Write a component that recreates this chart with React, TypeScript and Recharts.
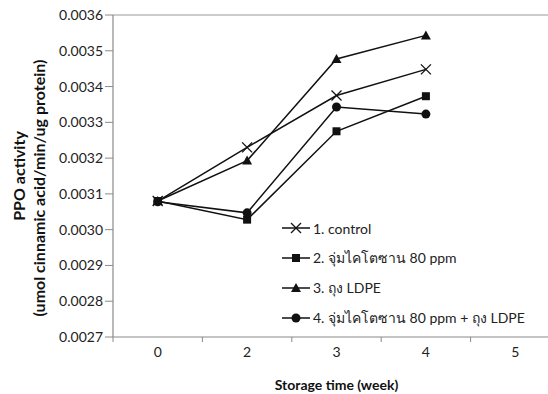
import React from 'react';
import {
  LineChart,
  Line,
  XAxis,
  YAxis,
  ReferenceLine,
  Label
} from 'recharts';

// storage weeks (category labels, one band each)
const weeks = ['0', '2', '3', '4', '5'];
const yTicks = [0.0027, 0.0028, 0.0029, 0.003, 0.0031, 0.0032, 0.0033, 0.0034, 0.0035, 0.0036];

const control = [0.00308, 0.00323, 0.003375, 0.003448, null];
const chitosan = [0.00308, 0.003028, 0.003275, 0.003373, null];
const ldpe = [0.00308, 0.003193, 0.003477, 0.003543, null];
const chitosanLdpe = [0.003078, 0.003047, 0.003343, 0.003323, null];

const seriesNames = [
  '1. control',
  '2. จุ่มไคโตซาน 80 ppm',
  '3. ถุง LDPE',
  '4. จุ่มไคโตซาน 80 ppm + ถุง LDPE'
];

// points sit in the middle of each band
const data = weeks.map((w, i) => ({
  pos: i + 0.5,
  week: w,
  control: control[i],
  chitosan: chitosan[i],
  ldpe: ldpe[i],
  chitosanLdpe: chitosanLdpe[i]
}));

const FONT = 'Lato, "Noto Sans", "DejaVu Sans", sans-serif';
const AXIS = '#8a8a8a';

type Shape = 'cross' | 'square' | 'triangle' | 'circle';

const Marker = ({ cx, cy, shape }: { cx: number; cy: number; shape: Shape }) => {
  if (cx == null || cy == null) return null;
  if (shape === 'cross') {
    return (
      <g stroke="#111" strokeWidth={1.3}>
        <line x1={cx - 5} y1={cy - 5} x2={cx + 5} y2={cy + 5} />
        <line x1={cx - 5} y1={cy + 5} x2={cx + 5} y2={cy - 5} />
      </g>
    );
  }
  if (shape === 'square') return <rect x={cx - 4} y={cy - 4} width={8} height={8} fill="#111" />;
  if (shape === 'triangle')
    return <polygon points={`${cx},${cy - 5} ${cx + 5},${cy + 4} ${cx - 5},${cy + 4}`} fill="#111" />;
  return <circle cx={cx} cy={cy} r={4.5} fill="#111" />;
};

const dotFor = (shape: Shape) => (props: any) => (
  <Marker key={`${shape}-${props.index}`} cx={props.cx} cy={props.cy} shape={shape} />
);

const shapes: Shape[] = ['cross', 'square', 'triangle', 'circle'];

// legend sits inside the plot, lower right
const LegendBox = () => (
  <div style={{ position: 'absolute', left: 282, top: 213, fontFamily: FONT, fontSize: 14, color: '#222' }}>
    {seriesNames.map((name, i) => (
      <div key={name} style={{ display: 'flex', alignItems: 'center', height: 30, whiteSpace: 'nowrap' }}>
        <svg width={28} height={14} style={{ marginRight: 3 }}>
          <line x1={0} y1={7} x2={28} y2={7} stroke="#111" strokeWidth={1.5} />
          <Marker cx={14} cy={7} shape={shapes[i]} />
        </svg>
        <span>{name}</span>
      </div>
    ))}
  </div>
);

// x tick: mark at band edge, label at band centre
const XTick = (props: any) => {
  const { x, y, payload, width } = props;
  const band = (width || 446) / weeks.length;
  const label = weeks[payload.value];
  return (
    <g>
      <line x1={x} y1={y - 8} x2={x} y2={y - 3} stroke={AXIS} />
      {label !== undefined && (
        <text x={x + band / 2} y={y + 12} textAnchor="middle" fontFamily={FONT} fontSize={14} fill="#222">
          {label}
        </text>
      )}
    </g>
  );
};

const YTitle = () => (
  <g fontFamily={FONT} fontWeight="bold" fontSize={16} fill="#111">
    <text x={25} y={176} textAnchor="middle" transform="rotate(-90 25 176)">
      PPO activity
    </text>
    <text x={45} y={188} textAnchor="middle" transform="rotate(-90 45 188)">
      (umol cinnamic acid/min/ug protein)
    </text>
  </g>
);

export default function App() {
  return (
    <div style={{ position: 'relative', width: 548, height: 394, overflow: 'hidden', background: '#fff' }}>
      <style>{'body{margin:0}'}</style>
      <LineChart width={560} height={394} data={data} margin={{ top: 15, right: 0, bottom: 0, left: 0 }}>
        <ReferenceLine y={0.0036} stroke="#9a9a9a" strokeWidth={1.2} />
        <XAxis
          dataKey="pos"
          type="number"
          domain={[0, 5]}
          ticks={[0, 1, 2, 3, 4, 5]}
          interval={0}
          tick={<XTick />}
          tickLine={false}
          axisLine={{ stroke: AXIS, strokeWidth: 1.2 }}
          height={57}
        >
          <Label
            value="Storage time (week)"
            position="insideBottom"
            offset={4}
            style={{ fontFamily: FONT, fontWeight: 'bold', fontSize: 14, fill: '#111' }}
          />
        </XAxis>
        <YAxis
          domain={[0.0027, 0.0036]}
          ticks={yTicks}
          interval={0}
          width={113}
          tickFormatter={(v: number) => v.toFixed(4)}
          tick={{ fontFamily: FONT, fontSize: 14, fill: '#222' }}
          tickLine={{ stroke: AXIS }}
          tickSize={8}
          axisLine={{ stroke: AXIS, strokeWidth: 1.2 }}
        >
          <Label content={<YTitle />} />
        </YAxis>
        <Line dataKey="control" name={seriesNames[0]} stroke="#111" strokeWidth={1.5} dot={dotFor('cross')} isAnimationActive={false} />
        <Line dataKey="chitosan" name={seriesNames[1]} stroke="#111" strokeWidth={1.5} dot={dotFor('square')} isAnimationActive={false} />
        <Line dataKey="ldpe" name={seriesNames[2]} stroke="#111" strokeWidth={1.5} dot={dotFor('triangle')} isAnimationActive={false} />
        <Line dataKey="chitosanLdpe" name={seriesNames[3]} stroke="#111" strokeWidth={1.5} dot={dotFor('circle')} isAnimationActive={false} />
      </LineChart>
      <LegendBox />
    </div>
  );
}
